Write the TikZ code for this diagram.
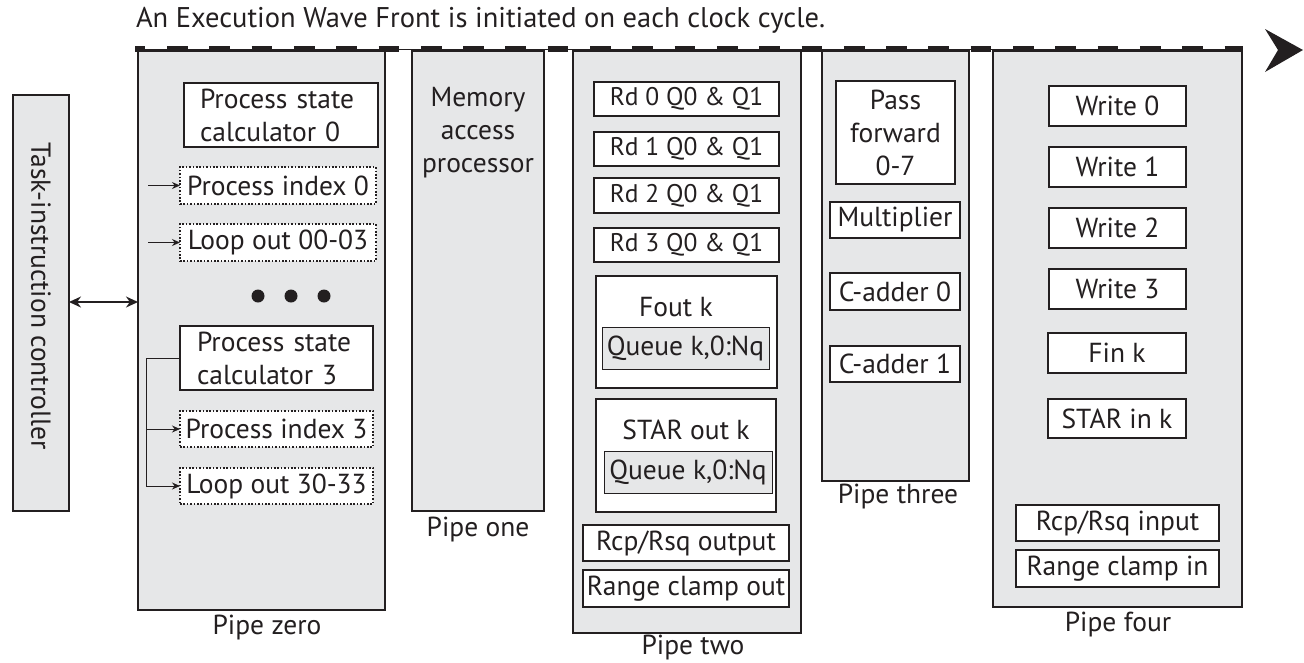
\documentclass[tikz,border=0pt]{standalone}
\usepackage{fontspec}
\setmainfont{PT Sans}
\usetikzlibrary{arrows.meta}
\definecolor{ink}{HTML}{231F20}
\definecolor{gfill}{HTML}{E6E7E8}
\tikzset{
  base/.style={inner sep=0pt, outer sep=0pt, text=ink, font=\fontsize{27.5}{33}\selectfont},
  pipe/.style={base, draw=ink, fill=gfill, line width=2.2pt},
  blk/.style={base, draw=ink, fill=white, line width=1.8pt, align=center},
  rdblk/.style={blk, font=\fontsize{25.5}{30}\selectfont},
  dotbox/.style={base, draw=ink, fill=white, line width=1.6pt, dash pattern=on 1.6pt off 1.8pt},
  queue/.style={base, draw=ink, fill=gfill, line width=0.8pt},
  lbl/.style={base},
  feed/.style={draw=ink, line width=1pt, -{Stealth[length=8pt,width=7pt]}},
  wire/.style={draw=ink, line width=1pt},
  dot/.style={circle, fill=ink, inner sep=0pt, minimum size=13pt},
}
\begin{document}
\begin{tikzpicture}[x=1pt,y=-1pt]
\useasboundingbox (0,0) rectangle (1304,662);

% title
\node[lbl, anchor=west, font=\fontsize{28.5}{34}\selectfont] (title) at (136,20) {An Execution Wave Front is initiated on each clock cycle.};

% task-instruction controller
\node[pipe, minimum width=56pt, minimum height=416pt] (tic) at (41,303) {};
\node[lbl, rotate=-90] (ticl) at (41,296) {Task-instruction controller};

% pipe outlines
\node[pipe, minimum width=247pt, minimum height=559pt] (p0) at (261.5,330.5) {};
\node[pipe, minimum width=132pt, minimum height=460pt] (p1) at (478,281) {};
\node[pipe, minimum width=228pt, minimum height=582pt] (p2) at (687,342) {};
\node[pipe, minimum width=147pt, minimum height=430pt] (p3) at (895.5,266) {};
\node[pipe, minimum width=249pt, minimum height=556pt] (p4) at (1117.5,329) {};

\node[lbl] (p0l) at (267,628) {Pipe zero};
\node[lbl] (p1l) at (478,530) {Pipe one};
\node[lbl] (p2l) at (693,648) {Pipe two};
\node[lbl] (p3l) at (898,497) {Pipe three};
\node[lbl] (p4l) at (1118,625) {Pipe four};

% controller <-> pipe zero
\draw[draw=ink, line width=1.8pt, {Stealth[length=12pt,width=11pt]}-{Stealth[length=12pt,width=11pt]}]
  (tic.east |- 0,302) -- (p0.west |- 0,302);

% pipe zero contents
\node[blk, align=left, text width=162pt, inner xsep=16pt, minimum height=64pt] (psc0) at (281,115)
  {Process state\\calculator 0};
\node[dotbox, minimum width=196pt, minimum height=37pt] (pi0) at (278,185.5) {Process index 0};
\node[dotbox, minimum width=196pt, minimum height=37pt] (lo0) at (278,242.5) {Loop out 00-03};
\coordinate (in0) at (148,185.5);
\coordinate (in1) at (148,242.5);
\draw[feed] (in0) -- (pi0.west);
\draw[feed] (in1) -- (lo0.west);

\node[dot] (d1) at (258,296) {};
\node[dot] (d2) at (291,296) {};
\node[dot] (d3) at (324,296) {};

\node[blk, align=left, text width=159pt, inner xsep=17pt, minimum height=64pt] (psc3) at (276.5,358)
  {Process state\\calculator 3};
\node[dotbox, minimum width=193pt, minimum height=36pt] (pi3) at (276.5,429) {Process index 3};
\node[dotbox, minimum width=193pt, minimum height=36pt] (lo3) at (276.5,486) {Loop out 30-33};
\coordinate (bus) at (146,358);
\draw[wire] (psc3.west) -- (bus) -- (bus |- lo3.west);
\draw[feed] (bus |- pi3.west) -- (pi3.west);
\draw[feed] (bus |- lo3.west) -- (lo3.west);

% pipe one contents
\node[lbl, align=center] (map) at (478,133) {Memory\\access\\processor};

% pipe two contents
\node[rdblk, minimum width=185pt, minimum height=34pt] (rd0) at (686.5,99) {Rd 0 Q0 \& Q1};
\node[rdblk, minimum width=185pt, minimum height=34pt] (rd1) at (686.5,149) {Rd 1 Q0 \& Q1};
\node[rdblk, minimum width=185pt, minimum height=35pt] (rd2) at (686.5,195.5) {Rd 2 Q0 \& Q1};
\node[rdblk, minimum width=185pt, minimum height=34pt] (rd3) at (686.5,245) {Rd 3 Q0 \& Q1};

\node[blk, minimum width=181pt, minimum height=112pt] (fout) at (686.5,332) {};
\node[lbl] (foutl) at (676,307) {Fout k};
\node[queue, minimum width=167pt, minimum height=42pt] (q1) at (685.5,348) {Queue k,0:Nq};

\node[blk, minimum width=180pt, minimum height=113pt] (star) at (686,455.5) {};
\node[lbl] (starl) at (686,430) {STAR out k};
\node[queue, minimum width=168pt, minimum height=42pt] (q2) at (688,472) {Queue k,0:Nq};

\node[blk, minimum width=206pt, minimum height=36pt] (rcpo) at (686,543) {Rcp/Rsq output};
\node[blk, minimum width=206pt, minimum height=37pt] (rngo) at (686,588.5) {Range clamp out};

% pipe three contents
\node[blk, minimum width=119pt, minimum height=103pt] (pass) at (895.5,132.5) {Pass\\forward\\0-7};
\node[blk, minimum width=130pt, minimum height=36pt] (mult) at (895,220) {Multiplier};
\node[blk, minimum width=130pt, minimum height=37pt] (ca0) at (895,291.5) {C-adder 0};
\node[blk, minimum width=130pt, minimum height=36pt] (ca1) at (895,364) {C-adder 1};

% pipe four contents
\node[blk, minimum width=137pt, minimum height=40pt] (w0) at (1117.5,106) {Write 0};
\node[blk, minimum width=137pt, minimum height=40pt] (w1) at (1117.5,167) {Write 1};
\node[blk, minimum width=137pt, minimum height=40pt] (w2) at (1117.5,228) {Write 2};
\node[blk, minimum width=137pt, minimum height=40pt] (w3) at (1117.5,289) {Write 3};
\node[blk, minimum width=138pt, minimum height=40pt] (fin) at (1117,353) {Fin k};
\node[blk, minimum width=138pt, minimum height=39pt] (starin) at (1117,418.5) {STAR in k};
\node[blk, minimum width=203pt, minimum height=36pt] (rcpi) at (1117.5,523) {Rcp/Rsq input};
\node[blk, minimum width=203pt, minimum height=37pt] (rngi) at (1117.5,568.5) {Range clamp in};

% execution wave front
\coordinate (wf0) at (135,49);
\coordinate (wf1) at (1243,49);
\draw[ink, line width=1pt] (wf0) -- (wf1);
\draw[ink, line width=6.5pt, dash pattern=on 20.7pt off 21.6pt, dash phase=10.3pt] (wf0) -- (wf1);
\coordinate (tip) at (1303,50);
\fill[ink] (tip) -- (1265,29) -- (1278,50) -- (1265,72) -- cycle;
\end{tikzpicture}
\end{document}
